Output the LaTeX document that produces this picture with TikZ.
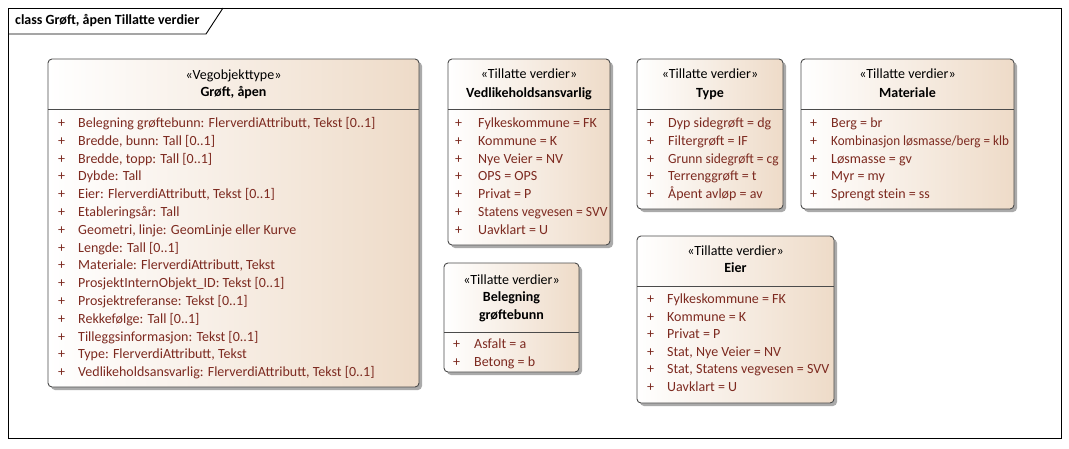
\documentclass[tikz,border=0pt]{standalone}
\usepackage{fontspec}
\setmainfont{Carlito}
\definecolor{tanc}{RGB}{238,219,200}
\definecolor{attrc}{RGB}{125,42,32}
\definecolor{edgec}{RGB}{75,75,75}
\definecolor{shadowc}{RGB}{170,170,170}
\tikzset{
  x=1pt, y=-1pt,
  cls/.style={draw=edgec, line width=0.9pt, rounded corners=4pt, left color=white, right color=tanc, inner sep=0pt, outer sep=0pt},
  txt/.style={inner sep=0pt, text height=10.5pt, text depth=3.5pt, font=\fontsize{14}{16}\selectfont},
  attr/.style={txt, anchor=west, text=attrc},
  hdr/.style={txt, anchor=center, text=black},
  hdrb/.style={txt, anchor=center, text=black, font=\fontsize{14}{16}\selectfont\bfseries},
}
\newcommand\clsbox[6]{%
  \fill[shadowc, rounded corners=4pt] (#2+3,#3+3) rectangle (#4+3,#5+3);
  \node[cls, anchor=north west, minimum width={(#4-#2)*1pt}, minimum height={(#5-#3)*1pt}] (#1) at (#2,#3) {};
  \draw[edgec, line width=0.9pt] (#1.west |- 0,#6) -- (#1.east |- 0,#6);
}
\newcommand\attrs[6]{%
  \foreach[count=\i] \t in {#6} {
    \node[attr] (#1p\i) at (#2,{#4+(\i-1)*#5}) {+};
    \node[attr] (#1a\i) at (#3,{#4+(\i-1)*#5}) {\t};
  }
}
\begin{document}
\begin{tikzpicture}
\useasboundingbox (0,0) rectangle (1069,448);
\fill[white] (0,0) rectangle (1069,448);
% frame
\node[draw=black, line width=0.9pt, anchor=north west, minimum width=1053pt, minimum height=430pt, inner sep=0pt, outer sep=0pt] (frame) at (8,8) {};
\draw[line width=0.9pt] (frame.north west |- 0,34) -- (206,34) -- (223,8);
\node[txt, anchor=west, font=\fontsize{14}{16}\selectfont\bfseries] (title) at (15,21) {class Grøft, åpen Tillatte verdier};

% main class
\clsbox{main}{48}{59}{419}{387}{109}
\node[hdr] (mainst) at (233.5,76) {«Vegobjekttype»};
\node[hdrb] (mainnm) at (233.5,93) {Grøft, åpen};
\attrs{m}{58}{78}{124}{17.8}{
  {Belegning grøftebunn: FlerverdiAttributt, Tekst [0..1]},
  {Bredde, bunn: Tall [0..1]},
  {Bredde, topp: Tall [0..1]},
  {Dybde: Tall},
  {Eier: FlerverdiAttributt, Tekst [0..1]},
  {Etableringsår: Tall},
  {Geometri, linje: GeomLinje eller Kurve},
  {Lengde: Tall [0..1]},
  {Materiale: FlerverdiAttributt, Tekst},
  {ProsjektInternObjekt\_ID: Tekst [0..1]},
  {Prosjektreferanse: Tekst [0..1]},
  {Rekkefølge: Tall [0..1]},
  {Tilleggsinformasjon: Tekst [0..1]},
  {Type: FlerverdiAttributt, Tekst},
  {Vedlikeholdsansvarlig: FlerverdiAttributt, Tekst [0..1]}}

% Vedlikeholdsansvarlig
\clsbox{ved}{448}{59}{610}{245}{109}
\node[hdr] (vedst) at (529,75) {«Tillatte verdier»};
\node[hdrb] (vednm) at (529,94) {Vedlikeholdsansvarlig};
\attrs{v}{455}{478}{124}{17.75}{
  {Fylkeskommune = FK},
  {Kommune = K},
  {Nye Veier = NV},
  {OPS = OPS},
  {Privat = P},
  {\scalebox{0.97}[1]{Statens vegvesen = SVV}},
  {Uavklart = U}}

% Type
\clsbox{typ}{637}{59}{783}{209}{109}
\node[hdr] (typst) at (710,75) {«Tillatte verdier»};
\node[hdrb] (typnm) at (710,94) {Type};
\attrs{t}{647}{668}{124}{17.75}{
  {Dyp sidegrøft = dg},
  {Filtergrøft = IF},
  {\scalebox{0.96}[1]{Grunn sidegrøft = cg}},
  {Terrenggrøft = t},
  {Åpent avløp = av}}

% Materiale
\clsbox{mat}{801}{59}{1014}{209}{109}
\node[hdr] (matst) at (907.5,75) {«Tillatte verdier»};
\node[hdrb] (matnm) at (907.5,94) {Materiale};
\attrs{r}{810}{831}{124}{17.75}{
  {Berg = br},
  {\scalebox{0.935}[1]{Kombinasjon løsmasse/berg = klb}},
  {Løsmasse = gv},
  {Myr = my},
  {Sprengt stein = ss}}

% Belegning grøftebunn
\clsbox{bel}{444}{263}{579}{372}{332}
\node[hdr] (belst) at (511.5,281) {«Tillatte verdier»};
\node[hdrb] (belnm1) at (511.5,298) {Belegning};
\node[hdrb] (belnm2) at (511.5,316) {grøftebunn};
\attrs{b}{453}{474}{345}{17.5}{
  {Asfalt = a},
  {Betong = b}}

% Eier
\clsbox{eier}{637}{236}{834}{403}{286}
\node[hdr] (eierst) at (735.5,252) {«Tillatte verdier»};
\node[hdrb] (eiernm) at (735.5,269) {Eier};
\attrs{e}{647}{667}{300}{17.6}{
  {Fylkeskommune = FK},
  {Kommune = K},
  {Privat = P},
  {Stat, Nye Veier = NV},
  {Stat, Statens vegvesen = SVV},
  {Uavklart = U}}
\end{tikzpicture}
\end{document}
